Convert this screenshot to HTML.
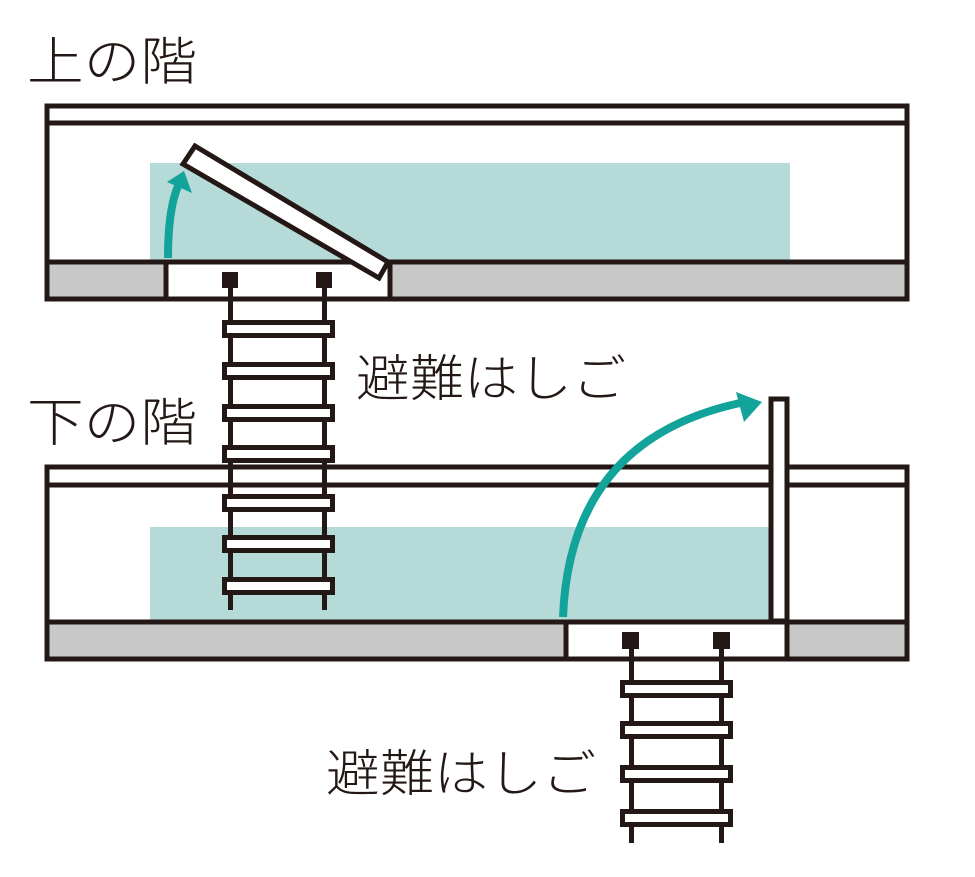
<!DOCTYPE html>
<html><head><meta charset="utf-8"><style>
html,body{margin:0;padding:0;background:#fff;}
svg{display:block}
text{font-family:"Liberation Sans","Noto Sans CJK JP",sans-serif;fill:#231815;font-weight:300;}
</style></head><body>
<svg width="975" height="877" viewBox="0 0 975 877" xmlns="http://www.w3.org/2000/svg">
<g stroke="#231815" stroke-width="5" fill="none">
<rect x="47" y="106" width="860" height="193" fill="#fff"/>
<line x1="47" y1="123" x2="907" y2="123"/>
</g>
<rect x="150" y="163" width="640" height="98" fill="#b6dad7"/>
<g stroke="#231815" stroke-width="5">
<rect x="47" y="262" width="860" height="37" fill="#c8c8c8"/>
<rect x="166" y="262" width="224" height="37" fill="#fff"/>
<polygon points="195,146 388,262 379,278 183,164" fill="#fff"/>
</g>
<path d="M168,258 Q168,205 180,182" stroke="#12a39a" stroke-width="8" fill="none"/>
<polygon points="167,182 184,171 192,193" fill="#12a39a"/>

<g stroke="#231815" stroke-width="5" fill="none">
<rect x="47" y="467" width="860" height="192" fill="#fff"/>
<line x1="47" y1="485" x2="907" y2="485"/>
</g>
<rect x="150" y="527" width="620" height="94" fill="#b6dad7"/>
<g stroke="#231815" stroke-width="5">
<rect x="47" y="622" width="860" height="37" fill="#c8c8c8"/>
<rect x="566" y="622" width="221" height="37" fill="#fff"/>
<rect x="771" y="399" width="16" height="222" fill="#fff"/>
</g>
<path d="M563,617 Q570,440 740,403" stroke="#12a39a" stroke-width="8" fill="none"/>
<polygon points="736,392 762,402 744,422" fill="#12a39a"/>

<g fill="#231815">
<rect x="222" y="272" width="16" height="16"/>
<rect x="316" y="272" width="16" height="16"/>
<rect x="228" y="285" width="5" height="325"/>
<rect x="322" y="285" width="5" height="325"/>
</g>
<g stroke="#231815" stroke-width="5" fill="#fff">
<rect x="224.5" y="322.5" width="108" height="13"/>
<rect x="224.5" y="364.5" width="108" height="13"/>
<rect x="224.5" y="406.5" width="108" height="13"/>
<rect x="224.5" y="447.5" width="108" height="13"/>
<rect x="224.5" y="496.5" width="108" height="13"/>
<rect x="224.5" y="537.5" width="108" height="13"/>
<rect x="224.5" y="579.5" width="108" height="13"/>
</g>
<g fill="#231815">
<rect x="622" y="632" width="17" height="17"/>
<rect x="713" y="632" width="17" height="17"/>
<rect x="629" y="645" width="5" height="198"/>
<rect x="719" y="645" width="5" height="198"/>
</g>
<g stroke="#231815" stroke-width="5" fill="#fff">
<rect x="622.5" y="682.5" width="108" height="13"/>
<rect x="622.5" y="723.5" width="108" height="13"/>
<rect x="622.5" y="767.5" width="108" height="13"/>
<rect x="622.5" y="811.5" width="108" height="13"/>
</g>

<text x="27" y="80" font-size="52" textLength="170" lengthAdjust="spacingAndGlyphs">上の階</text>
<text x="27" y="441" font-size="52" textLength="170" lengthAdjust="spacingAndGlyphs">下の階</text>
<text x="356" y="396" font-size="50" textLength="270" lengthAdjust="spacingAndGlyphs">避難はしご</text>
<text x="326" y="791" font-size="50" textLength="270" lengthAdjust="spacingAndGlyphs">避難はしご</text>
</svg>
</body></html>
